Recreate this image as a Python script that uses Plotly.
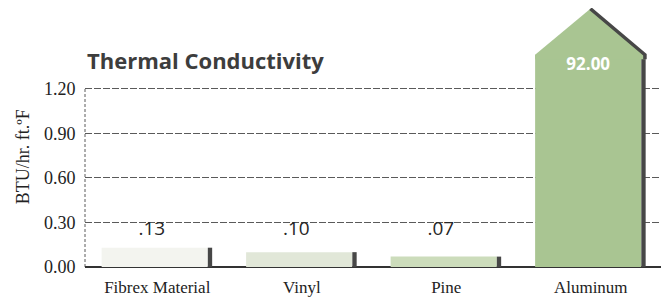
import plotly.graph_objects as go

# ---- data ----
categories = ["Fibrex Material", "Vinyl", "Pine", "Aluminum"]
values = [0.13, 0.10, 0.07, 92.00]
y_ticks = [0.0, 0.3, 0.6, 0.9, 1.2]
y_title = "BTU/hr. ft.\u00baF"
title = "Thermal Conductivity"

# ---- styles ----
bar_colors = ["#f3f4ef", "#e1e7d8", "#ccdcbb", "#a9c592"]
shadow_color = "#474747"
grid_color = "#5a5a5a"
serif = "Liberation Serif, Times New Roman, serif"
sans = "Open Sans, Noto Sans, sans-serif"
axis_top = 1.2          # last tick of the axis
broken_cap = 1.43       # drawn height of a bar that runs off the axis
roof_rise = 0.31        # height of the pointed top of a broken bar
seam = 0.03             # overlap so the roof joins the bar without a gap
label_y = 0.25          # level of the value labels
bar_off, bar_w = -0.385, 0.735
sh_off, sh_w = 0.35, 0.03

x = list(range(len(categories)))
drawn = [v if v <= axis_top else broken_cap for v in values]
txt = [f"{v:.2f}".lstrip("0") if v < 1 else f"{v:.2f}" for v in values]

fig = go.Figure()
fig.add_trace(go.Bar(x=x, y=drawn, offset=bar_off, width=bar_w,
                     marker=dict(color=bar_colors, line=dict(width=0)),
                     hoverinfo="skip"))
fig.add_trace(go.Bar(x=x, y=drawn, offset=sh_off, width=sh_w,
                     marker=dict(color=shadow_color, line=dict(width=0)),
                     hoverinfo="skip"))

# pointed tops for broken bars
for i, v in enumerate(values):
    if v > axis_top:
        xl, xr = x[i] + bar_off, x[i] + sh_off + sh_w
        xs = x[i] + sh_off
        xc = (xl + xr) / 2
        yb = broken_cap - seam
        fig.add_trace(go.Scatter(x=[xl, xl, xc, xr, xr, xl],
                                 y=[yb, broken_cap, broken_cap + roof_rise, broken_cap, yb, yb],
                                 fill="toself", fillcolor=bar_colors[i], mode="lines", cliponaxis=False,
                                 line=dict(width=0, color=bar_colors[i]), hoverinfo="skip"))
        fig.add_trace(go.Scatter(x=[xc, xr - 0.005, xr - 0.005], y=[broken_cap + roof_rise, broken_cap, yb],
                                 cliponaxis=False, mode="lines",
                                 line=dict(width=3.5, color=shadow_color), hoverinfo="skip"))
        fig.add_trace(go.Scatter(x=[x[i] + bar_off + bar_w / 2], y=[broken_cap - 0.075], mode="text",
                                 text=[f"<b>{txt[i]}</b>"], textfont=dict(family=sans, size=17, color="white"),
                                 hoverinfo="skip"))

small = [i for i, v in enumerate(values) if v <= axis_top]
fig.add_trace(go.Scatter(x=[x[i] + bar_off + bar_w / 2 - 0.02 for i in small], y=[label_y] * len(small),
                         mode="text", text=[txt[i] for i in small],
                         textfont=dict(family=sans, size=19, color="#262626"), hoverinfo="skip"))

fig.update_layout(
    width=661, height=297,
    margin=dict(l=77, r=6, t=0, b=38),
    paper_bgcolor="white", plot_bgcolor="white",
    barmode="overlay", showlegend=False,
    xaxis=dict(range=[-0.5, 3.5], tickvals=x, ticktext=categories, showgrid=False,
               zeroline=False, showline=False, ticks="outside", ticklen=5,
               tickcolor="rgba(0,0,0,0)",
               tickfont=dict(family=serif, size=17, color="#222222")),
    yaxis=dict(range=[0, 1.745], tickvals=y_ticks, ticktext=[f"{t:.2f}" for t in y_ticks],
               showgrid=True, gridcolor=grid_color, gridwidth=1, griddash="7px,2px",
               zeroline=True, zerolinecolor="#333333", zerolinewidth=1.5,
               ticks="outside", ticklen=5, tickcolor="rgba(0,0,0,0)",
               tickfont=dict(family=serif, size=18, color="#222222")),
    shapes=[
        dict(type="line", xref="paper", yref="y", x0=0, x1=0, y0=0, y1=axis_top,
             line=dict(color=grid_color, width=1, dash="3px,2px"), layer="below"),
        dict(type="line", xref="paper", yref="y", x0=1, x1=1, y0=0, y1=axis_top,
             line=dict(color=grid_color, width=1, dash="3px,2px"), layer="below"),
    ],
    annotations=[
        dict(text=f"<b>{title}</b>", xref="paper", yref="y", x=0, y=1.395, xanchor="left",
             yanchor="middle", showarrow=False, font=dict(family=sans, size=22, color="#3d3d3d")),
        dict(text=y_title, xref="paper", yref="y", x=-0.107, y=0.74, textangle=-90,
             xanchor="center", yanchor="middle", showarrow=False,
             font=dict(family=serif, size=18, color="#222222")),
    ],
)

fig.write_html("out.html")
